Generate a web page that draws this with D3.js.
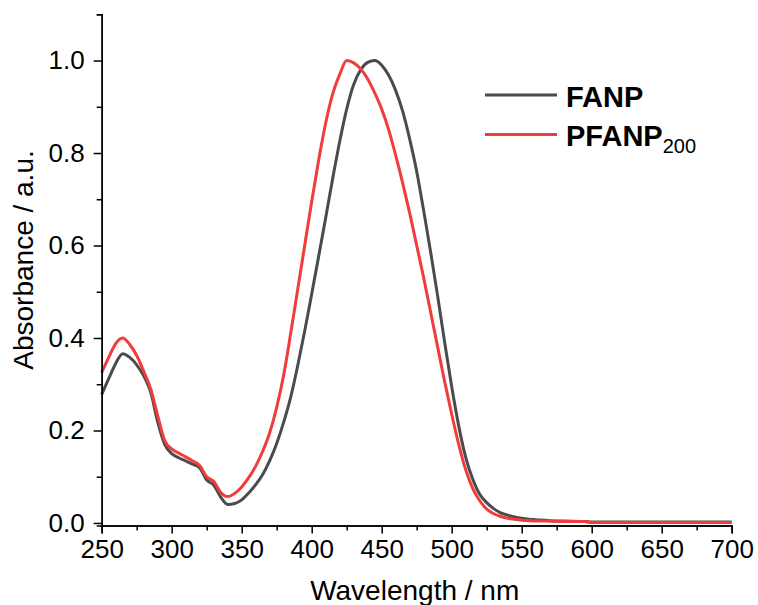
<!DOCTYPE html>
<html>
<head>
<meta charset="utf-8">
<script src="https://cdn.jsdelivr.net/npm/d3@7"></script>
<style>
  html, body { margin: 0; padding: 0; background: #fff; }
  svg { display: block; font-family: "Liberation Sans", Arial, sans-serif; }
</style>
</head>
<body>
<svg id="chart" width="758" height="605"></svg>
<script>
// ---- data ----
const wavelengths = [250,255,260,265,270,275,280,285,290,295,300,305,310,315,320,325,330,335,340,345,350,355,360,365,370,375,380,385,390,395,400,405,410,415,420,425,430,435,440,445,450,455,460,465,470,475,480,485,490,495,500,505,510,515,520,525,530,535,540,545,550,555,560,570,580,595,600,650,700];
const fanp = [0.278,0.312,0.345,0.366,0.358,0.342,0.318,0.283,0.218,0.170,0.150,0.141,0.134,0.127,0.119,0.093,0.082,0.056,0.040,0.042,0.050,0.065,0.083,0.105,0.135,0.172,0.218,0.272,0.340,0.415,0.495,0.577,0.660,0.745,0.825,0.895,0.948,0.980,0.996,1.000,0.990,0.968,0.935,0.890,0.830,0.760,0.675,0.585,0.490,0.390,0.295,0.210,0.142,0.095,0.062,0.044,0.031,0.022,0.017,0.013,0.010,0.008,0.007,0.005,0.004,0.003,0.002,0.002,0.002];
const pfanp200 = [0.325,0.358,0.388,0.400,0.386,0.362,0.328,0.290,0.232,0.178,0.160,0.151,0.143,0.134,0.124,0.100,0.090,0.066,0.057,0.064,0.078,0.098,0.123,0.155,0.195,0.250,0.320,0.410,0.505,0.600,0.695,0.785,0.865,0.928,0.970,1.000,0.995,0.982,0.960,0.930,0.895,0.850,0.795,0.735,0.670,0.600,0.530,0.455,0.380,0.305,0.235,0.170,0.115,0.075,0.048,0.030,0.020,0.014,0.010,0.008,0.006,0.005,0.004,0.004,0.003,0.003,0.001,0.001,0.001];
const seriesNames = ["FANP", "PFANP"];
const seriesSub = ["", "200"];
const seriesColors = ["#4b4b4b", "#f03c3c"];
const xTicks = [250,300,350,400,450,500,550,600,650,700];
const xMinor = [275,325,375,425,475,525,575,625,675];
const yTicks = [0.0,0.2,0.4,0.6,0.8,1.0];
const yMinor = [0.1,0.3,0.5,0.7,0.9,1.1];

// ---- layout ----
const svg = d3.select("#chart");
const x = d3.scaleLinear().domain([250, 700]).range([101.7, 731.7]);
const y = d3.scaleLinear().domain([-0.0055, 1.1]).range([525.5, 14.3]);
const y0 = y.range()[0];

const g = svg.append("g");

// curves
const series = [fanp, pfanp200];
const line = d3.line()
  .x((d, i) => x(wavelengths[i]))
  .y(d => y(d))
  .curve(d3.curveMonotoneX);
series.forEach((s, k) => {
  g.append("path")
    .datum(s)
    .attr("d", line)
    .attr("fill", "none")
    .attr("stroke", seriesColors[k])
    .attr("stroke-width", 3)
    .attr("stroke-linejoin", "round");
});

// axes
const tickFont = "26px";
const xAxis = d3.axisBottom(x).tickValues(xTicks).tickFormat(d3.format("d")).tickSizeOuter(0).tickSize(8).tickPadding(6);
const xAxisMinor = d3.axisBottom(x).tickValues(xMinor).tickFormat("").tickSizeOuter(0).tickSize(5);
const yAxis = d3.axisLeft(y).tickValues(yTicks).tickFormat(d3.format(".1f")).tickSizeOuter(0).tickSize(8).tickPadding(9);
const yAxisMinor = d3.axisLeft(y).tickValues(yMinor).tickFormat("").tickSizeOuter(0).tickSize(5);

function styleAxis(sel) {
  sel.select(".domain").attr("stroke", "#000").attr("stroke-width", 1.5);
  sel.selectAll(".tick line").attr("stroke", "#000").attr("stroke-width", 1.5);
  sel.selectAll(".tick text").attr("fill", "#000").style("font-size", tickFont).style("font-family", '"Liberation Sans", Arial, sans-serif');
}

svg.append("g").attr("transform", `translate(0,${y0})`).call(xAxis).call(styleAxis);
svg.append("g").attr("transform", `translate(0,${y0})`).call(xAxisMinor).call(styleAxis);
const gy = svg.append("g").attr("transform", `translate(${x.range()[0]},0)`).call(yAxis).call(styleAxis);
svg.append("g").attr("transform", `translate(${x.range()[0]},0)`).call(yAxisMinor).call(styleAxis);
gy.select(".domain").attr("d", `M0.5,${y(1.1)}V${y0}`);

// axis titles
svg.append("text")
  .attr("x", (x.range()[0] + x.range()[1]) / 2 - 2)
  .attr("y", 600)
  .attr("text-anchor", "middle")
  .style("font-size", "28px")
  .attr("fill", "#000")
  .text("Wavelength / nm");

svg.append("text")
  .attr("transform", `translate(33,260) rotate(-90)`)
  .attr("text-anchor", "middle")
  .style("font-size", "28px")
  .attr("fill", "#000")
  .text("Absorbance / a.u.");

// legend
const legendY = [95, 134.5];
const legendBase = [106.5, 146];
seriesNames.forEach((name, k) => {
  svg.append("line")
    .attr("x1", 485).attr("x2", 557)
    .attr("y1", legendY[k]).attr("y2", legendY[k])
    .attr("stroke", seriesColors[k]).attr("stroke-width", 3);
  const t = svg.append("text")
    .attr("x", 566)
    .attr("y", legendBase[k])
    .style("font-size", "29px")
    .style("font-weight", "bold")
    .attr("fill", "#000");
  t.append("tspan").text(name);
  if (seriesSub[k]) {
    t.append("tspan")
      .attr("dy", 7)
      .style("font-size", "20px")
      .style("font-weight", "normal")
      .text(seriesSub[k]);
  }
});
</script>
</body>
</html>
